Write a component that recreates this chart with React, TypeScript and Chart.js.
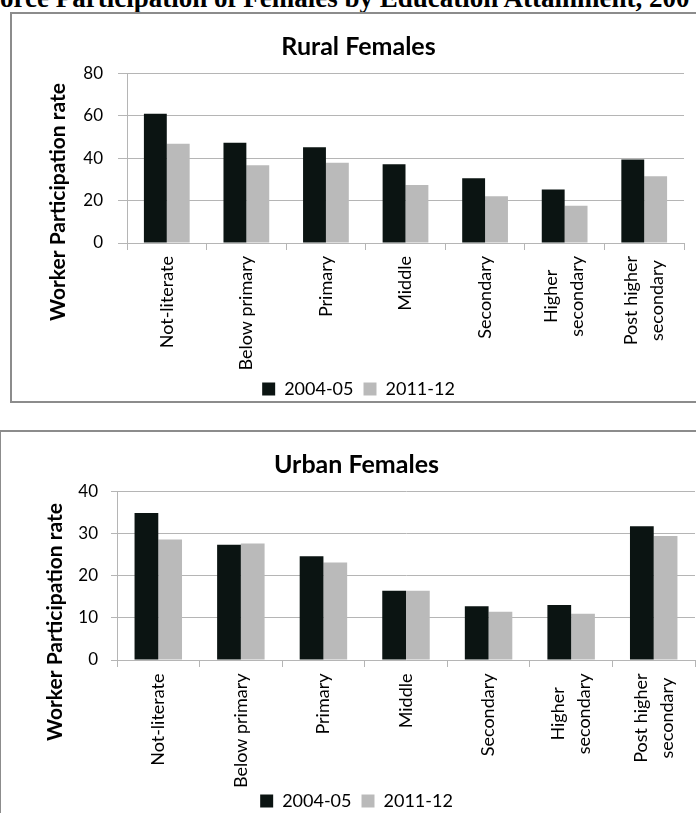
import React, { useEffect, useRef } from "react";
import { Chart, registerables } from "chart.js";

Chart.register(...registerables);

// ---------- data ----------
const categories: (string | string[])[] = [
  "Not-literate",
  "Below primary",
  "Primary",
  "Middle",
  "Secondary",
  ["Higher", "secondary"],
  ["Post higher", "secondary"],
];
const seriesLabels = ["2004-05", "2011-12"];

const rural2004 = [61.0, 47.3, 45.2, 37.2, 30.5, 25.2, 39.4];
const rural2011 = [46.8, 36.7, 37.8, 27.3, 22.0, 17.6, 31.5];
const urban2004 = [35.0, 27.4, 24.7, 16.5, 12.8, 13.1, 31.8];
const urban2011 = [28.7, 27.7, 23.2, 16.5, 11.5, 11.0, 29.5];

const ruralYTicks = [0, 20, 40, 60, 80];
const urbanYTicks = [0, 10, 20, 30, 40];

const pageTitle = "orce Participation of Females by Education Attainment, 200";
const ruralTitle = "Rural Females";
const urbanTitle = "Urban Females";
const yAxisTitle = "Worker Participation rate";

// ---------- styles ----------
const BLACK = "#0b1412";
const GRAY = "#bababa";
const GRID = "#b5b5b5";
const FONT = "Lato";

// y-axis title, drawn rotated at a given spot
const yTitlePlugin = {
  id: "yTitleCustom",
  afterDraw(chart: any, _args: any, opts: any) {
    const ctx = chart.ctx;
    ctx.save();
    ctx.translate(opts.x, opts.y);
    ctx.rotate(-Math.PI / 2);
    ctx.font = opts.font;
    ctx.fillStyle = "#000";
    ctx.textAlign = "center";
    ctx.textBaseline = "middle";
    ctx.fillText(opts.text, 0, 0);
    ctx.restore();
  },
};

// category labels, rotated, with multi-line labels centred line by line
const xLabelPlugin = {
  id: "xLabelsCustom",
  afterDraw(chart: any, _args: any, opts: any) {
    const scale = chart.scales.x;
    const ctx = chart.ctx;
    ctx.save();
    ctx.font = opts.font;
    ctx.fillStyle = "#000";
    ctx.textAlign = "center";
    ctx.textBaseline = "middle";
    (chart.data.labels as any[]).forEach((lab, i) => {
      const lines: string[] = Array.isArray(lab) ? lab : [lab];
      const px = scale.getPixelForTick(i);
      const maxW = Math.max(...lines.map((l) => ctx.measureText(l).width));
      const yc = scale.top + opts.offset + maxW / 2;
      lines.forEach((line, j) => {
        const x = px + (j - (lines.length - 1) / 2) * opts.lineSpacing;
        ctx.save();
        ctx.translate(x, yc);
        ctx.rotate(-Math.PI / 2);
        ctx.fillText(line, 0, 0);
        ctx.restore();
      });
    });
    ctx.restore();
  },
};

type Cfg = {
  left: number;
  top: number;
  w: number;
  h: number;
  padRight: number;
  yWidth: number;
  yTickLen: number;
  yPad: number;
  xHeight: number;
  xTickLen: number;
  xOffset: number;
  titleTop: number;
  titleBottom: number;
  yTitleX: number;
  yTitleY: number;
};

function BarPanel({
  title,
  s1,
  s2,
  yTicks,
  cfg,
}: {
  title: string;
  s1: number[];
  s2: number[];
  yTicks: number[];
  cfg: Cfg;
}) {
  const ref = useRef<HTMLCanvasElement | null>(null);
  useEffect(() => {
    if (!ref.current) return;
    const chart = new Chart(ref.current, {
      type: "bar",
      data: {
        labels: categories as any,
        datasets: [
          {
            label: seriesLabels[0],
            data: s1,
            backgroundColor: BLACK,
            categoryPercentage: 0.575,
            barPercentage: 1,
          },
          {
            label: seriesLabels[1],
            data: s2,
            backgroundColor: GRAY,
            categoryPercentage: 0.575,
            barPercentage: 1,
          },
        ],
      },
      options: {
        animation: false,
        responsive: false,
        maintainAspectRatio: false,
        layout: { padding: { left: 0, right: cfg.padRight, top: 0, bottom: 0 } },
        plugins: {
          title: {
            display: true,
            text: title,
            color: "#000",
            font: { family: FONT, size: 25, weight: "bold" },
            padding: { top: cfg.titleTop, bottom: cfg.titleBottom },
          },
          legend: {
            position: "bottom",
            labels: {
              boxWidth: 13,
              boxHeight: 13,
              padding: 10,
              color: "#000",
              font: { family: FONT, size: 18 },
            },
          },
          tooltip: { enabled: false },
          yTitleCustom: {
            text: yAxisTitle,
            x: cfg.yTitleX,
            y: cfg.yTitleY,
            font: `bold 21px ${FONT}`,
          },
          xLabelsCustom: {
            font: `18px ${FONT}`,
            offset: cfg.xOffset,
            lineSpacing: 26,
          },
        } as any,
        scales: {
          x: {
            offset: true,
            grid: {
              display: true,
              drawOnChartArea: false,
              drawTicks: true,
              tickLength: cfg.xTickLen,
              color: GRID,
              offset: true,
            },
            border: { display: true, color: GRID },
            ticks: { display: false },
            afterFit: (s: any) => {
              s.height = cfg.xHeight;
            },
          },
          y: {
            min: yTicks[0],
            max: yTicks[yTicks.length - 1],
            ticks: {
              stepSize: yTicks[1] - yTicks[0],
              padding: cfg.yPad,
              color: "#000",
              font: { family: FONT, size: 17 },
            },
            grid: { color: GRID, tickLength: cfg.yTickLen },
            border: { display: true, color: GRID },
            afterFit: (s: any) => {
              s.width = cfg.yWidth;
            },
          },
        },
      } as any,
      plugins: [yTitlePlugin, xLabelPlugin],
    });
    return () => chart.destroy();
  }, []);
  return (
    <canvas
      ref={ref}
      width={cfg.w}
      height={cfg.h}
      style={{
        position: "absolute",
        left: cfg.left,
        top: cfg.top,
        width: cfg.w,
        height: cfg.h,
      }}
    />
  );
}

const topCfg: Cfg = {
  left: 33,
  top: 14,
  w: 658,
  h: 394,
  padRight: 7,
  yWidth: 94,
  yTickLen: 9,
  yPad: 15,
  xHeight: 127,
  xTickLen: 7,
  xOffset: 13,
  titleTop: 18.2,
  titleBottom: 11.2,
  yTitleX: 25,
  yTitleY: 188,
};

const bottomCfg: Cfg = {
  left: 18,
  top: 432,
  w: 678,
  h: 388,
  padRight: 1,
  yWidth: 99,
  yTickLen: 6,
  yPad: 13,
  xHeight: 122,
  xTickLen: 7,
  xOffset: 13.5,
  titleTop: 18.2,
  titleBottom: 11.7,
  yTitleX: 37,
  yTitleY: 190,
};

export default function App() {
  return (
    <div
      style={{
        position: "absolute",
        left: 0,
        top: 0,
        width: 696,
        height: 813,
        overflow: "hidden",
        background: "#fff",
      }}
    >
      <div
        style={{
          position: "absolute",
          left: 0,
          top: -15,
          whiteSpace: "nowrap",
          fontFamily: "'Liberation Serif', 'Times New Roman', serif",
          fontWeight: "bold",
          fontSize: 27,
          lineHeight: "27px",
          color: "#000",
        }}
      >
        {pageTitle}
      </div>
      <div
        style={{
          position: "absolute",
          left: 10,
          top: 12,
          width: 720,
          height: 387,
          border: "2px solid #8c8c8c",
        }}
      />
      <div
        style={{
          position: "absolute",
          left: -1,
          top: 430,
          width: 720,
          height: 420,
          border: "2px solid #8c8c8c",
        }}
      />
      <BarPanel title={ruralTitle} s1={rural2004} s2={rural2011} yTicks={ruralYTicks} cfg={topCfg} />
      <BarPanel title={urbanTitle} s1={urban2004} s2={urban2011} yTicks={urbanYTicks} cfg={bottomCfg} />
    </div>
  );
}
